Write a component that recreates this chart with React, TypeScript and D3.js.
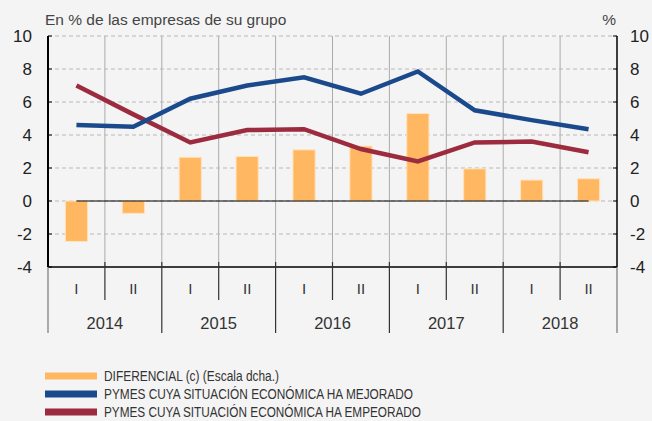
import React from 'react';
import * as d3 from 'd3';

const years = ['2014', '2015', '2016', '2017', '2018'];
const halves = ['I', 'II'];
const periods = years.flatMap(y => halves.map(h => `${h}-${y}`));

const diferencial = [-2.45, -0.75, 2.65, 2.7, 3.1, 3.33, 5.3, 1.95, 1.27, 1.35];
const mejorado = [4.6, 4.5, 6.2, 7.0, 7.5, 6.5, 7.85, 5.5, 4.9, 4.35];
const empeorado = [7.0, 5.25, 3.55, 4.3, 4.35, 3.15, 2.4, 3.55, 3.6, 2.95];

const yTicks = [-4, -2, 0, 2, 4, 6, 8, 10];

const legendItems = [
  { label: 'DIFERENCIAL (c) (Escala dcha.)', color: '#ffb762', len: 175 },
  { label: 'PYMES CUYA SITUACIÓN ECONÓMICA HA MEJORADO', color: '#1b4a8c', len: 309 },
  { label: 'PYMES CUYA SITUACIÓN ECONÓMICA HA EMPEORADO', color: '#9c2b3f', len: 317 },
];

const W = 652;
const H = 421;
const left = 48;
const right = 617;
const top = 36;
const bottom = 267;

const App: React.FC = () => {
  const x = d3.scaleBand<string>().domain(periods).range([left, right]);
  const xYear = d3.scaleBand<string>().domain(years).range([left, right]);
  const y = d3.scaleLinear().domain([-4, 10]).range([bottom, top]);
  const barW = x.step() * 0.39;
  const cx = (i: number) => (x(periods[i]) || 0) + x.bandwidth() / 2;

  const line = d3.line<number>()
    .x((_, i) => cx(i))
    .y(d => y(d));

  const font = '"Liberation Sans", Arial, sans-serif';
  const narrow = '"Liberation Sans Narrow", "Liberation Sans", Arial, sans-serif';

  return (
    <div style={{ position: 'fixed', left: 0, top: 0 }}>
      <svg width={W} height={H} style={{ display: 'block', background: '#f4f4f4' }}>
        <rect width={W} height={H} fill="#f4f4f4" />
        <text x={45} y={25} fontFamily={font} fontSize={15.5} fill="#444">En % de las empresas de su grupo</text>
        <text x={616} y={25} fontFamily={font} fontSize={15.5} fill="#444" textAnchor="end">%</text>

        {/* vertical grid */}
        {periods.slice(1).map(p => (
          <line key={p} x1={x(p)} x2={x(p)} y1={top} y2={bottom} stroke="#aaa" strokeWidth={1} />
        ))}
        {/* horizontal dashed grid */}
        {yTicks.filter(t => t > -4).map(t => (
          <line key={t} x1={left} x2={right} y1={y(t)} y2={y(t)} stroke="#b8b8b8" strokeWidth={1} strokeDasharray="4,3" />
        ))}

        {/* bars */}
        {diferencial.map((v, i) => (
          <rect key={i} x={cx(i) - barW / 2} width={barW}
            y={y(Math.max(0, v))} height={Math.abs(y(v) - y(0))}
            fill="#ffb762" stroke="#ffe3bd" strokeWidth={1} />
        ))}

        {/* zero line */}
        <line x1={cx(0)} x2={cx(periods.length - 1)} y1={y(0)} y2={y(0)} stroke="#000" strokeWidth={1} />

        <path d={line(empeorado) || ''} fill="none" stroke="#9c2b3f" strokeWidth={4.5} />
        <path d={line(mejorado) || ''} fill="none" stroke="#1b4a8c" strokeWidth={4.5} />

        {/* axes */}
        <line x1={left} x2={left} y1={top} y2={bottom} stroke="#000" strokeWidth={2} />
        <line x1={right} x2={right} y1={top} y2={bottom} stroke="#000" strokeWidth={1.5} />
        <line x1={left} x2={right} y1={bottom} y2={bottom} stroke="#000" strokeWidth={1.5} />
        {yTicks.map(t => (
          <g key={t}>
            <line x1={left} x2={left + 4} y1={y(t)} y2={y(t)} stroke="#000" />
            <line x1={right - 4} x2={right} y1={y(t)} y2={y(t)} stroke="#000" />
            <text x={32} y={y(t)} dy="0.36em" textAnchor="end" fontFamily={font} fontSize={17} fill="#222">{t}</text>
            <text x={630} y={y(t)} dy="0.36em" textAnchor="start" fontFamily={font} fontSize={17} fill="#222">{t}</text>
          </g>
        ))}

        {/* category axis */}
        {periods.map((p, i) => (
          <g key={p}>
            {i % 2 === 1 && (
              <line x1={x(p)} x2={x(p)} y1={bottom - 5} y2={300} stroke="#333" strokeWidth={1.2} />
            )}
            <text x={cx(i)} y={289} dy="0.35em" textAnchor="middle" fontFamily={font} fontSize={15} fill="#333">
              {p.split('-')[0]}
            </text>
          </g>
        ))}
        {years.map((yr, i) => (
          <g key={yr}>
            <line x1={xYear(yr)} x2={xYear(yr)} y1={i === 0 ? bottom : bottom - 5} y2={333}
              stroke={i === 0 ? '#777' : '#333'} strokeWidth={1.2} />
            <text x={(xYear(yr) || 0) + xYear.bandwidth() / 2} y={323} dy="0.35em" textAnchor="middle"
              fontFamily={font} fontSize={16.5} fill="#333">{yr}</text>
          </g>
        ))}
        <line x1={right} x2={right} y1={bottom} y2={333} stroke="#777" strokeWidth={1.2} />

        {/* legend */}
        {legendItems.map((d, i) => (
          <g key={d.label} transform={`translate(0,${376 + i * 18})`}>
            <rect x={45} y={-3.5} width={52} height={7} fill={d.color} />
            <text x={104} y={5} fontFamily={narrow} fontSize={14} fill="#333"
              textLength={d.len} lengthAdjust="spacingAndGlyphs">{d.label}</text>
          </g>
        ))}
      </svg>
    </div>
  );
};

export default App;
